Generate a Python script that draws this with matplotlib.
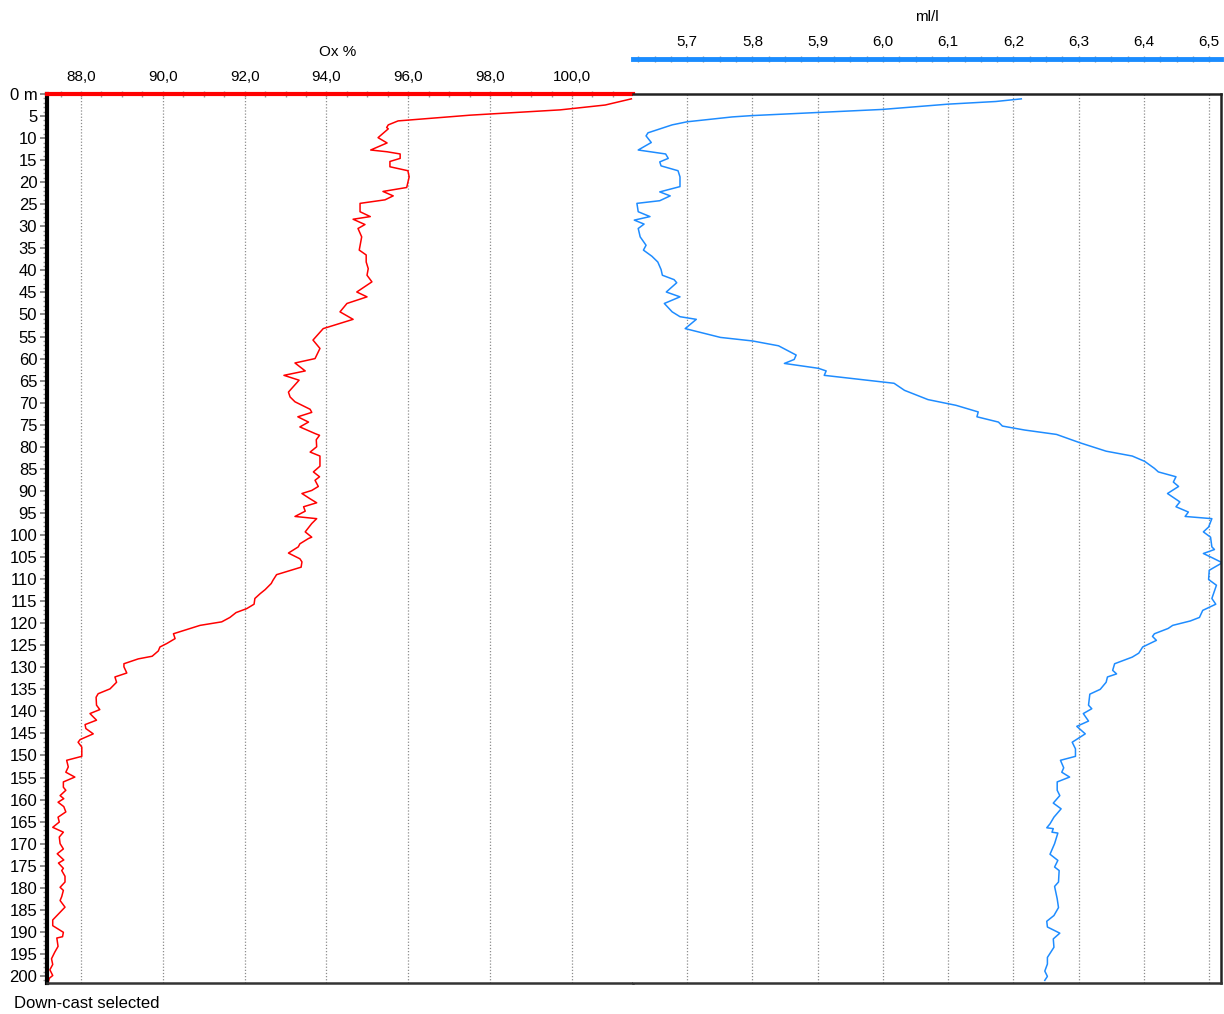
import matplotlib
matplotlib.use("Agg")
import matplotlib.pyplot as plt
from matplotlib.ticker import MultipleLocator, FuncFormatter

plt.rcParams['font.family'] = ['Liberation Sans', 'DejaVu Sans']

# oxygen saturation profile (Ox %)
ox_depth = [1.1, 2.5, 3.6, 4.8, 5.7, 6.1, 7.0, 7.6, 7.9, 9.9, 11.1, 12.7, 13.1, 13.6, 14.6,
            15.3, 16.5, 17.4, 18.8, 21.2, 22.1, 23.1, 24.0, 24.8, 26.7, 27.8, 28.4, 29.6, 30.5,
            32.4, 35.4, 36.5, 38.1, 39.6, 41.1, 42.6, 44.9, 46.0, 47.5, 49.4, 51.1, 53.2, 55.8,
            57.7, 60.0, 61.0, 62.8, 63.8, 64.9, 67.6, 68.7, 69.8, 71.5, 72.2, 73.2, 74.4, 75.5,
            76.2, 77.0, 77.4, 78.4, 80.0, 81.2, 82.1, 84.4, 85.7, 86.8, 87.6, 89.0, 89.9, 90.6,
            91.8, 92.7, 93.6, 94.6, 95.8, 96.3, 97.4, 99.3, 100.5, 100.8, 102.0, 102.7, 104.1,
            105.4, 106.1, 107.3, 108.4, 109.0, 110.3, 111.0, 112.4, 113.3, 114.4, 115.7, 116.7,
            117.6, 118.7, 119.7, 120.5, 121.2, 122.4, 123.5, 124.6, 125.4, 126.3, 127.5, 128.1,
            129.2, 129.9, 131.3, 132.2, 133.4, 134.9, 136.0, 136.8, 138.6, 139.6, 140.5, 142.0,
            143.0, 143.9, 145.1, 146.4, 147.0, 148.1, 150.2, 151.1, 152.6, 153.8, 154.9, 156.0,
            157.2, 157.9, 159.1, 159.8, 160.6, 161.6, 162.8, 164.0, 165.1, 166.3, 167.4, 168.5,
            170.0, 171.2, 172.3, 173.7, 174.4, 175.6, 176.1, 177.4, 178.7, 179.9, 180.6, 182.0,
            182.9, 184.4, 187.3, 188.6, 190.1, 191.1, 191.4, 193.3, 194.6, 196.1, 197.4, 198.6,
            199.9, 200.5, 201.4]
ox_pct = [101.45, 100.81, 99.71, 97.51, 96.29, 95.75, 95.51, 95.47, 95.51, 95.26, 95.48, 95.08,
          95.48, 95.80, 95.80, 95.55, 95.55, 95.99, 96.02, 95.96, 95.38, 95.63, 95.43, 94.82,
          94.82, 95.07, 94.65, 94.94, 94.77, 94.86, 94.80, 94.97, 94.97, 95.02, 94.99, 95.11,
          94.74, 94.99, 94.50, 94.33, 94.65, 93.92, 93.67, 93.84, 93.72, 93.23, 93.48, 92.96,
          93.33, 93.07, 93.11, 93.23, 93.60, 93.64, 93.30, 93.56, 93.35, 93.52, 93.72, 93.83,
          93.75, 93.76, 93.60, 93.84, 93.84, 93.68, 93.83, 93.72, 93.80, 93.64, 93.40, 93.60,
          93.76, 93.44, 93.48, 93.23, 93.76, 93.64, 93.48, 93.64, 93.56, 93.35, 93.31, 93.07,
          93.35, 93.40, 93.38, 92.99, 92.78, 92.69, 92.65, 92.50, 92.38, 92.25, 92.23, 92.05,
          91.79, 91.64, 91.44, 90.91, 90.67, 90.26, 90.30, 90.10, 89.93, 89.89, 89.74, 89.40,
          89.05, 89.05, 89.12, 88.83, 88.87, 88.71, 88.42, 88.37, 88.38, 88.46, 88.22, 88.38,
          88.10, 88.12, 88.30, 87.98, 87.93, 88.02, 88.02, 87.65, 87.69, 87.63, 87.85, 87.57,
          87.57, 87.63, 87.49, 87.58, 87.44, 87.58, 87.63, 87.44, 87.47, 87.31, 87.57, 87.47,
          87.49, 87.57, 87.42, 87.58, 87.45, 87.57, 87.53, 87.61, 87.61, 87.49, 87.57, 87.53,
          87.49, 87.61, 87.31, 87.31, 87.57, 87.55, 87.41, 87.44, 87.36, 87.28, 87.31, 87.24,
          87.31, 87.23, 87.20]

# dissolved oxygen profile (ml/l)
ml_depth = [1.1, 1.7, 2.3, 3.5, 4.2, 4.9, 5.2, 6.3, 7.0, 8.8, 9.5, 11.0, 12.7, 13.6, 14.6, 15.4,
            16.3, 17.4, 18.8, 21.0, 22.2, 23.1, 24.2, 24.8, 26.7, 27.8, 28.6, 29.5, 30.5, 32.4,
            34.3, 35.4, 36.8, 38.1, 39.8, 41.1, 42.1, 42.8, 44.9, 46.0, 47.5, 49.4, 50.5, 51.1,
            53.2, 55.2, 56.0, 57.1, 59.2, 60.2, 61.1, 62.2, 62.8, 63.8, 65.3, 65.6, 67.2, 69.3,
            70.6, 72.1, 73.2, 74.4, 75.3, 76.2, 77.2, 79.1, 81.0, 82.1, 83.3, 84.9, 85.7, 86.8,
            88.0, 89.0, 90.6, 92.5, 93.6, 94.8, 95.8, 96.3, 98.2, 99.3, 100.5, 102.7, 103.3,
            104.2, 105.2, 106.3, 108.0, 110.1, 111.4, 114.4, 115.7, 117.1, 118.7, 119.5, 120.5,
            121.2, 122.4, 123.0, 123.9, 125.4, 126.8, 127.7, 129.2, 130.7, 131.5, 132.2, 133.4,
            135.0, 136.1, 138.6, 139.4, 140.5, 142.2, 143.4, 145.1, 147.0, 148.5, 150.2, 151.1,
            152.8, 153.8, 154.9, 156.0, 157.9, 159.1, 160.8, 162.1, 164.0, 165.5, 166.4, 166.6,
            167.4, 167.6, 170.0, 172.4, 173.8, 175.3, 176.1, 178.7, 179.7, 182.5, 184.5, 186.3,
            187.6, 188.9, 190.3, 191.6, 193.5, 195.8, 197.3, 198.9, 200.1, 201.0]
ml_val = [6.212, 6.173, 6.100, 5.999, 5.900, 5.799, 5.769, 5.700, 5.677, 5.640, 5.637, 5.645,
          5.625, 5.667, 5.671, 5.658, 5.660, 5.686, 5.689, 5.689, 5.658, 5.674, 5.658, 5.623,
          5.625, 5.643, 5.619, 5.634, 5.625, 5.628, 5.637, 5.633, 5.646, 5.655, 5.660, 5.662,
          5.680, 5.684, 5.668, 5.689, 5.665, 5.677, 5.689, 5.714, 5.697, 5.751, 5.800, 5.840,
          5.867, 5.864, 5.849, 5.901, 5.913, 5.910, 5.999, 6.017, 6.033, 6.069, 6.112, 6.146,
          6.144, 6.177, 6.183, 6.217, 6.266, 6.302, 6.342, 6.382, 6.401, 6.416, 6.422, 6.449,
          6.445, 6.453, 6.436, 6.455, 6.449, 6.468, 6.463, 6.504, 6.499, 6.491, 6.502, 6.504,
          6.508, 6.491, 6.505, 6.520, 6.500, 6.499, 6.511, 6.504, 6.510, 6.490, 6.485, 6.471,
          6.444, 6.437, 6.416, 6.413, 6.419, 6.398, 6.392, 6.382, 6.355, 6.352, 6.358, 6.344,
          6.342, 6.333, 6.317, 6.315, 6.320, 6.307, 6.315, 6.297, 6.310, 6.290, 6.295, 6.295,
          6.272, 6.277, 6.274, 6.286, 6.267, 6.267, 6.271, 6.261, 6.273, 6.262, 6.256, 6.251,
          6.261, 6.259, 6.268, 6.263, 6.256, 6.268, 6.263, 6.270, 6.269, 6.263, 6.267, 6.269,
          6.262, 6.251, 6.252, 6.271, 6.261, 6.262, 6.252, 6.252, 6.248, 6.252, 6.248]

W, H = 1224, 1014
top, bot = 94, 983
fig = plt.figure(figsize=(W / 100, H / 100), dpi=100)
ax_r = fig.add_axes([47 / W, 1 - bot / H, (633 - 47) / W, (bot - top) / H])
ax_b = fig.add_axes([633 / W, 1 - bot / H, (1221 - 633) / W, (bot - top) / H])

comma = lambda v, p: f'{v:.1f}'.replace('.', ',')
grid_kw = dict(color='#8c8c8c', linestyle=(0, (1, 1.5)), linewidth=0.9)

# left half: Ox %
ax_r.plot(ox_pct, ox_depth, color='#ff0000', lw=1.1)
ax_r.set_xlim(87.17, 101.49)
ax_r.set_ylim(201.6, 0)
ax_r.xaxis.tick_top()
ax_r.xaxis.set_major_locator(MultipleLocator(2))
ax_r.xaxis.set_minor_locator(MultipleLocator(0.5))
ax_r.xaxis.set_major_formatter(FuncFormatter(comma))
ax_r.tick_params(axis='x', which='both', direction='inout', color='#999999',
                 length=5, width=1, labelsize=11, pad=5)
ax_r.grid(axis='x', which='major', **grid_kw)
ax_r.yaxis.set_major_locator(MultipleLocator(5))
ax_r.yaxis.set_minor_locator(MultipleLocator(1))
ax_r.yaxis.set_major_formatter(FuncFormatter(lambda v, p: '0 m' if v == 0 else f'{v:.0f}'))
ax_r.tick_params(axis='y', which='major', direction='out', color='#777777',
                 length=5, width=1.2, labelsize=12, pad=2)
ax_r.tick_params(axis='y', which='minor', direction='out', color='#999999',
                 length=3, width=1)
ax_r.spines['left'].set_linewidth(3)
ax_r.spines['left'].set_color('black')
ax_r.spines['top'].set_linewidth(3)
ax_r.spines['top'].set_color('#ff0000')
ax_r.spines['right'].set_visible(False)
ax_r.spines['bottom'].set_linewidth(1.8)
ax_r.spines['bottom'].set_color('#333333')

# right half: ml/l
ax_b.plot(ml_val, ml_depth, color='#1e8cff', lw=1.1)
ax_b.set_xlim(5.617, 6.518)
ax_b.set_ylim(201.6, 0)
ax_b.tick_params(axis='y', left=False, labelleft=False)
ax_b.xaxis.tick_top()
ax_b.xaxis.set_major_locator(MultipleLocator(0.1))
ax_b.xaxis.set_minor_locator(MultipleLocator(0.025))
ax_b.xaxis.set_major_formatter(FuncFormatter(comma))
ax_b.tick_params(axis='x', which='both', direction='inout', color='#999999',
                 length=5, width=1, labelsize=11, pad=5)
ax_b.grid(axis='x', which='major', **grid_kw)
ax_b.spines['top'].set_position(('axes', (bot - 59) / (bot - top)))
ax_b.spines['top'].set_linewidth(3.5)
ax_b.spines['top'].set_color('#1a8cff')
ax_b.spines['left'].set_visible(False)
ax_b.spines['right'].set_linewidth(1.8)
ax_b.spines['right'].set_color('#222222')
ax_b.spines['bottom'].set_linewidth(1.8)
ax_b.spines['bottom'].set_color('#333333')
ax_b.axhline(0, color='#222222', lw=1.8, clip_on=False)

fig.text(338 / W, 1 - 52 / H, 'Ox %', ha='center', va='center', fontsize=11)
fig.text(927 / W, 1 - 17 / H, 'ml/l', ha='center', va='center', fontsize=11)
fig.text(14 / W, 1 - 1003 / H, 'Down-cast selected', ha='left', va='center', fontsize=12)

fig.savefig('out.png', dpi=100)
